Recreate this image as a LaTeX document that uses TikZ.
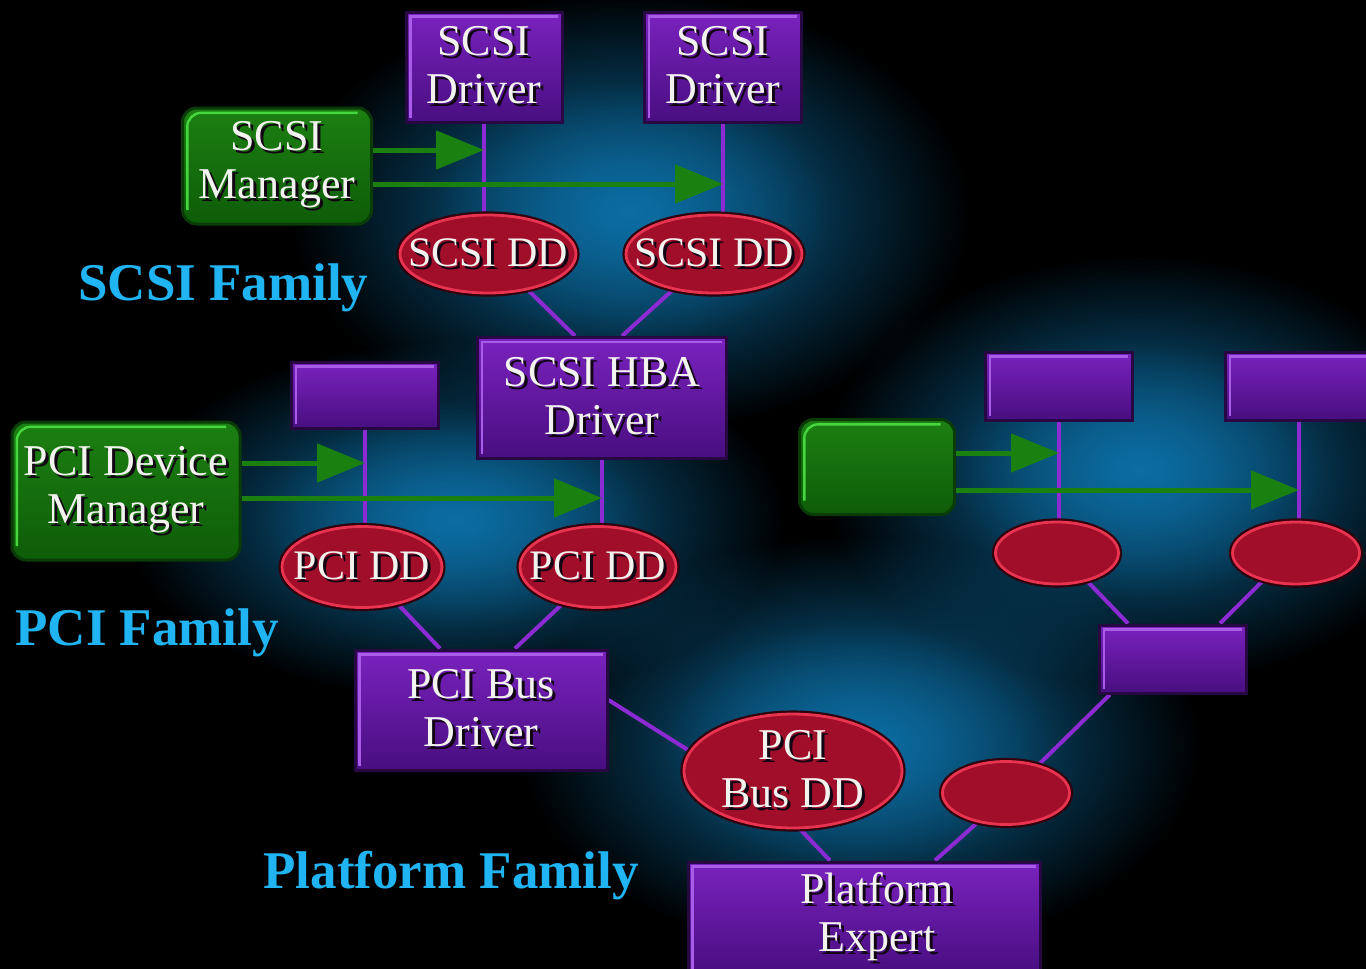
\documentclass[tikz,border=0pt]{standalone}
\usepackage{fontspec}
\setmainfont{Liberation Serif}
\usetikzlibrary{shapes.geometric,arrows.meta,fadings}

\definecolor{bg}{RGB}{0,0,0}
\definecolor{glowc}{RGB}{12,110,164}
\definecolor{boxtop}{RGB}{122,34,190}
\definecolor{boxbot}{RGB}{72,14,128}
\definecolor{boxlight}{RGB}{168,92,232}
\definecolor{boxdark}{RGB}{40,8,66}
\definecolor{gtop}{RGB}{28,128,18}
\definecolor{gbot}{RGB}{14,92,8}
\definecolor{glight}{RGB}{70,214,64}
\definecolor{gdark}{RGB}{10,60,8}
\definecolor{ellfill}{RGB}{160,14,42}
\definecolor{ellline}{RGB}{232,52,80}
\definecolor{elldark}{RGB}{48,0,12}
\definecolor{linkc}{RGB}{140,42,212}
\definecolor{arrc}{RGB}{26,128,16}
\definecolor{txt}{RGB}{242,242,238}
\definecolor{txtshadow}{RGB}{18,6,20}
\definecolor{famblue}{RGB}{32,180,242}

\newcommand\nodefont{\fontsize{22pt}{24pt}\selectfont}
\newcommand\ddfont{\fontsize{21pt}{24pt}\selectfont}
\newcommand\famfont{\fontsize{26.5pt}{30pt}\selectfont\bfseries}
% white lettering with a dark drop shadow
\newcommand\shd[1]{\makebox[0pt][l]{\hspace*{1.5pt}\raisebox{-1.5pt}{\textcolor{txtshadow}{#1}}}#1}

\tikzfading[name=glowfade, inner color=transparent!0, outer color=transparent!100]

\pgfdeclarelayer{glowlayer}
\pgfdeclarelayer{linklayer}
\pgfsetlayers{glowlayer,linklayer,main}

\tikzset{
  pbox/.style={rectangle, draw=boxdark, line width=1.5pt,
    top color=boxtop, bottom color=boxbot, inner sep=0pt,
    text=txt, font=\nodefont, align=center,
    path picture={\draw[boxlight, line width=1.2pt]
      ([shift={(2.2pt,2.2pt)}]path picture bounding box.south west) |-
      ([shift={(-2.2pt,-2.2pt)}]path picture bounding box.north east);}},
  gbox/.style={rectangle, rounded corners=7pt, draw=gdark, line width=1.5pt,
    top color=gtop, bottom color=gbot, inner sep=0pt,
    text=txt, font=\nodefont, align=center,
    path picture={\draw[glight, line width=1.2pt]
      ([shift={(2.4pt,7pt)}]path picture bounding box.south west) |-
      ([shift={(-7pt,-2.4pt)}]path picture bounding box.north east);}},
  ebox/.style={ellipse, draw=ellline, line width=1.4pt, fill=ellfill,
    preaction={draw=elldark, line width=3.6pt}, inner sep=0pt,
    text=txt, font=\ddfont, align=center},
  link/.style={draw=linkc, line width=2pt},
  arr/.style={draw=arrc, line width=2.5pt, -{Triangle[length=24pt,width=19pt]}},
  family/.style={text=famblue, font=\famfont, inner sep=0pt, anchor=base west}
}

% a glow: a wide soft halo with a denser core on top
\newcommand\glow[3]{%
  \fill[glowc, path fading=glowfade] #1 ellipse [x radius=#2, y radius=#3];
  \fill[glowc, fill opacity=0.6, path fading=glowfade] #1 ellipse [x radius=0.6*#2, y radius=0.6*#3];}

\begin{document}
\begin{tikzpicture}[x=0.5pt, y=-0.5pt]
\useasboundingbox (0,0) rectangle (1366,969);

\begin{pgfonlayer}{glowlayer}
  \fill[bg] (0,0) rectangle (1366,969);
  \glow{(630,212)}{340}{220}
  \glow{(455,520)}{330}{180}
  \glow{(1140,470)}{320}{215}
  \glow{(860,745)}{340}{210}
\end{pgfonlayer}

% SCSI family
\node[pbox, minimum width=78pt, minimum height=55pt] (sd1) at (484,67) {\shd{SCSI}\\\shd{Driver}};
\node[pbox, minimum width=78.5pt, minimum height=55pt] (sd2) at (723,67) {\shd{SCSI}\\\shd{Driver}};
\node[gbox, minimum width=94.5pt, minimum height=58pt] (smgr) at (277,166) {\shd{SCSI}\\\shd{Manager}};
\node[ebox, minimum width=88pt, minimum height=39pt] (sdd1) at (488,254) {\makebox[0pt]{\shd{SCSI DD}}};
\node[ebox, minimum width=88pt, minimum height=39pt] (sdd2) at (714,254) {\makebox[0pt]{\shd{SCSI DD}}};
\node[pbox, minimum width=124.5pt, minimum height=60.5pt] (hba) at (602,398) {\shd{SCSI HBA}\\\shd{Driver}};
\node[family] (scsifam) at (78,300) {SCSI Family};

% PCI family
\node[pbox, minimum width=73.5pt, minimum height=33pt] (pblank) at (365,395) {};
\node[gbox, minimum width=114pt, minimum height=69pt] (pmgr) at (126,491) {\shd{PCI Device}\\\shd{Manager}};
\node[ebox, minimum width=80pt, minimum height=40.5pt] (pdd1) at (362,567) {\makebox[0pt]{\shd{PCI DD}}};
\node[ebox, minimum width=78pt, minimum height=40.5pt] (pdd2) at (598,567) {\makebox[0pt]{\shd{PCI DD}}};
\node[pbox, minimum width=126pt, minimum height=60pt] (pbus) at (481,710) {\shd{PCI Bus}\\\shd{Driver}};
\node[family] (pcifam) at (15,645) {PCI Family};

% unlabelled family on the right
\node[pbox, minimum width=73.5pt, minimum height=34pt] (rb1) at (1059,386) {};
\node[pbox, minimum width=73.5pt, minimum height=34pt] (rb2) at (1299,386) {};
\node[gbox, minimum width=77.5pt, minimum height=47.5pt] (rmgr) at (877,467) {};
\node[ebox, minimum width=61.5pt, minimum height=31pt] (rdd1) at (1057,553) {};
\node[ebox, minimum width=63.5pt, minimum height=31pt] (rdd2) at (1296,553) {};
\node[pbox, minimum width=73.5pt, minimum height=34pt] (rmid) at (1173,659) {};
\node[ebox, minimum width=63.5pt, minimum height=31.5pt] (rdd3) at (1006,793) {};

% platform family
\node[ebox, font=\nodefont, minimum width=109pt, minimum height=56.5pt] (pbdd) at (793,771) {\shd{PCI}\\\shd{Bus DD}};
\node[pbox, minimum width=176pt, minimum height=56pt] (pe) at (864,918) {\hspace*{13pt}\shd{Platform}\\\hspace*{13pt}\shd{Expert}};
\node[family] (platfam) at (263,888) {Platform Family};

% purple connectors, kept behind the shapes
\begin{pgfonlayer}{linklayer}
  \draw[link] (sd1.south) -- (sd1.south |- sdd1.center);
  \draw[link] (sd2.south) -- (sd2.south |- sdd2.center);
  \draw[link] (sdd1.-42) -- ([xshift=-13.5pt]hba.north);
  \draw[link] (sdd2.-139) -- ([xshift=10pt]hba.north);
  \draw[link] (pblank.south) -- (pblank.south |- pdd1.center);
  \draw[link] (hba.south) -- (hba.south |- pdd2.center);
  \draw[link] (pdd1.-46) -- ([xshift=-20.5pt]pbus.north);
  \draw[link] (pdd2.-134) -- ([xshift=17pt]pbus.north);
  \draw[link] ([yshift=5pt]pbus.east) -- (pbdd.169);
  \draw[link] (pbdd.-83) -- ([xshift=-17pt]pe.north);
  \draw[link] (rb1.south) -- (rb1.south |- rdd1.center);
  \draw[link] (rb2.south) -- (rb2.south |- rdd2.center);
  \draw[link] (rdd1.-43) -- ([xshift=-22.5pt]rmid.north);
  \draw[link] (rdd2.-140) -- ([xshift=23.5pt]rmid.north);
  \draw[link] ([xshift=-31.5pt]rmid.south) -- (rdd3.41);
  \draw[link] (rdd3.-134) -- ([xshift=35.5pt]pe.north);
\end{pgfonlayer}

% green manager arrows
\coordinate (st1) at (484,150);
\coordinate (st2) at (723,184);
\coordinate (pt1) at (365,463);
\coordinate (pt2) at (602,498);
\coordinate (rt1) at (1059,453);
\coordinate (rt2) at (1299,490);
\draw[arr] (smgr.east |- st1) -- (st1);
\draw[arr] (smgr.east |- st2) -- (st2);
\draw[arr] (pmgr.east |- pt1) -- (pt1);
\draw[arr] (pmgr.east |- pt2) -- (pt2);
\draw[arr] (rmgr.east |- rt1) -- (rt1);
\draw[arr] (rmgr.east |- rt2) -- (rt2);
\end{tikzpicture}
\end{document}
